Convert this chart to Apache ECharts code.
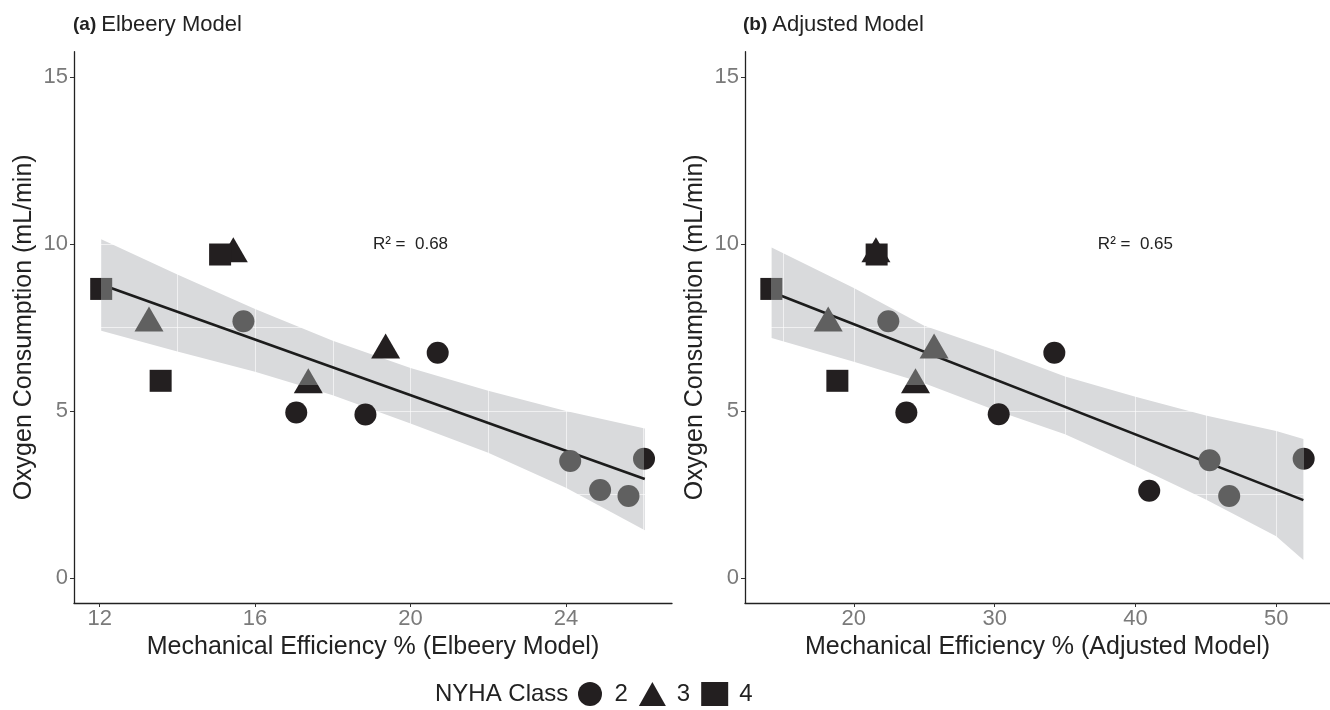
<!DOCTYPE html>
<html><head><meta charset="utf-8">
<script src="https://cdn.jsdelivr.net/npm/echarts@6/dist/echarts.min.js"></script>
<style>html,body{margin:0;padding:0;background:#fff}#c{width:1330px;height:710px}</style>
</head><body><div id="c"></div>
<script>
// ---------- Panel (a) Elbeery Model ----------
const aClass = [4, 3, 4, 4, 3, 2, 3, 2, 2, 3, 2, 2, 2, 2, 2];
const aX = [12.04, 13.27, 13.57, 15.10, 15.44, 15.70, 17.37, 17.06, 18.84, 19.36, 20.70, 24.11, 24.88, 25.61, 26.01];
const aY = [8.65, 7.63, 5.90, 9.68, 9.70, 7.68, 5.78, 4.95, 4.89, 6.82, 6.74, 3.50, 2.63, 2.45, 3.57];
const aTone = ['kg', 'g', 'k', 'k', 'k', 'g', 'gk_v', 'k', 'k', 'k', 'k', 'g', 'g', 'g', 'gk'];
const aFitX = [12.04, 26.03];
const aFitY = [8.78, 2.96];
const aBandX = [12.04, 14, 16, 18, 20, 22, 24, 26.03];
const aBandHi = [10.14, 9.08, 8.05, 7.10, 6.28, 5.60, 5.00, 4.47];
const aBandLo = [7.40, 6.78, 6.17, 5.47, 4.62, 3.75, 2.70, 1.43];
const aXTicks = [12, 16, 20, 24];
const aR2 = ['R\u00b2 =  0.68', 20, 10];

// ---------- Panel (b) Adjusted Model ----------
const bClass = [4, 3, 4, 4, 3, 2, 3, 2, 2, 3, 2, 2, 2, 2, 2];
const bX = [14.14, 18.18, 18.83, 21.62, 21.57, 22.45, 24.38, 23.73, 30.29, 25.70, 34.24, 45.27, 40.98, 46.66, 51.95];
const bY = [8.65, 7.63, 5.90, 9.68, 9.70, 7.68, 5.78, 4.95, 4.90, 6.82, 6.74, 3.52, 2.61, 2.45, 3.57];
const bTone = ['kg', 'g', 'k', 'k', 'k', 'g', 'gk_v', 'k', 'k', 'g', 'k', 'g', 'k', 'g', 'gk'];
const bFitX = [14.16, 51.93];
const bFitY = [8.56, 2.33];
const bBandX = [14.16, 20, 25, 30, 35, 40, 45, 50, 51.93];
const bBandHi = [9.89, 8.68, 7.55, 6.82, 6.03, 5.42, 4.86, 4.40, 4.16];
const bBandLo = [7.18, 6.47, 5.83, 5.03, 4.30, 3.35, 2.35, 1.25, 0.54];
const bXTicks = [20, 30, 40, 50];
const bR2 = ['R\u00b2 =  0.65', 40, 10];

const yTicks = [0, 5, 10, 15];
const classes = [2, 3, 4];
const classLabels = ['2', '3', '4'];

const FONT = 'Liberation Sans, Arial, Helvetica, sans-serif';
const BLACK = '#231f20', GREY = '#606060';

function toneColor(t) {
  if (t === 'k') return BLACK;
  if (t === 'g') return GREY;
  const vertical = t === 'gk_v';
  const first = t === 'kg' ? BLACK : GREY;
  const second = t === 'kg' ? GREY : BLACK;
  const s = vertical ? 0.68 : 0.5;
  return { type: 'linear', x: 0, y: 0, x2: vertical ? 0 : 1, y2: vertical ? 1 : 0,
    colorStops: [{offset: 0, color: first}, {offset: s, color: first}, {offset: s, color: second}, {offset: 1, color: second}] };
}
const shape = {2: 'circle', 3: 'triangle', 4: 'rect'};
const size = {2: 22, 3: [29, 25], 4: 22};
const offs = {2: [0, 0], 3: [0, -4], 4: [0, 0]};

const panels = [
  {cls: aClass, x: aX, y: aY, tone: aTone, fitX: aFitX, fitY: aFitY, bx: aBandX, hi: aBandHi, lo: aBandLo,
   ticks: aXTicks, r2: aR2, xmin: 11.34, xmax: 26.73, gstep: 2, left: 74, width: 598,
   xname: 'Mechanical Efficiency % (Elbeery Model)', tag: '(a)', title: 'Elbeery Model', tleft: 68},
  {cls: bClass, x: bX, y: bY, tone: bTone, fitX: bFitX, fitY: bFitY, bx: bBandX, hi: bBandHi, lo: bBandLo,
   ticks: bXTicks, r2: bR2, xmin: 12.27, xmax: 53.82, gstep: 5, left: 745, width: 597,
   xname: 'Mechanical Efficiency % (Adjusted Model)', tag: '(b)', title: 'Adjusted Model', tleft: 738}
];

const grid = [], xAxis = [], yAxis = [], series = [], title = [];
panels.forEach((p, gi) => {
  grid.push({left: p.left, top: 51.7, width: p.width, height: 551.3, containLabel: false});
  title.push({text: '{a|' + p.tag + '} {b|' + p.title + '}', left: p.tleft, top: 9,
    textStyle: {fontWeight: 'normal', rich: {a: {fontWeight: 'bold', fontSize: 19, color: '#222', fontFamily: FONT},
                       b: {fontWeight: 'normal', fontSize: 22, color: '#222', fontFamily: FONT}}}});
  // data axis (gridlines)
  xAxis.push({gridIndex: gi, type: 'value', position: 'bottom', min: p.xmin, max: p.xmax,
    minInterval: p.gstep, maxInterval: p.gstep, z: 3,
    axisLine: {show: false}, axisTick: {show: false}, axisLabel: {show: false},
    splitLine: {show: true, lineStyle: {color: 'rgba(255,255,255,0.6)', width: 1}}});
  // label axis
  xAxis.push({gridIndex: gi, type: 'value', position: 'bottom', min: p.xmin, max: p.xmax, z: 4,
    axisLine: {show: true, onZero: false, lineStyle: {color: '#222', width: 1.3}},
    axisTick: {show: true, length: 4, customValues: p.ticks, lineStyle: {color: '#333', width: 1}},
    axisLabel: {customValues: p.ticks, color: '#7a7a7a', fontSize: 22, fontFamily: FONT, margin: 5},
    splitLine: {show: false},
    name: p.xname, nameLocation: 'middle', nameGap: 30,
    nameTextStyle: {fontSize: 25, color: '#222', fontFamily: FONT}});
  yAxis.push({gridIndex: gi, type: 'value', position: 'left', min: -0.75, max: 15.75,
    minInterval: 2.5, maxInterval: 2.5, z: 3,
    axisLine: {show: false}, axisTick: {show: false}, axisLabel: {show: false},
    splitLine: {show: true, lineStyle: {color: 'rgba(255,255,255,0.6)', width: 1}}});
  yAxis.push({gridIndex: gi, type: 'value', position: 'left', min: -0.75, max: 15.75, z: 4,
    axisLine: {show: true, onZero: false, lineStyle: {color: '#222', width: 1.3}},
    axisTick: {show: true, length: 4, customValues: yTicks, lineStyle: {color: '#333', width: 1}},
    axisLabel: {customValues: yTicks, color: '#7a7a7a', fontSize: 22, fontFamily: FONT, margin: 6},
    splitLine: {show: false},
    name: 'Oxygen Consumption (mL/min)', nameLocation: 'middle', nameGap: 37,
    nameTextStyle: {fontSize: 25, color: '#222', fontFamily: FONT}});
  const xi = gi * 2, yi = gi * 2;
  // confidence band
  series.push({type: 'custom', xAxisIndex: xi, yAxisIndex: yi, z: 1, silent: true, animation: false,
    data: p.bx.map((x, i) => [x, p.lo[i], p.hi[i]]), encode: {x: 0, y: [1, 2]},
    renderItem: (params, api) => {
      if (params.dataIndex !== 0) return null;
      const pts = [];
      for (let i = 0; i < p.bx.length; i++) pts.push(api.coord([p.bx[i], p.hi[i]]));
      for (let i = p.bx.length - 1; i >= 0; i--) pts.push(api.coord([p.bx[i], p.lo[i]]));
      return {type: 'polygon', shape: {points: pts}, style: {fill: '#d9dadc'}};
    }});
  // fit line
  series.push({type: 'line', xAxisIndex: xi, yAxisIndex: yi, z: 5, silent: true, animation: false,
    symbol: 'none', data: p.fitX.map((x, i) => [x, p.fitY[i]]),
    lineStyle: {color: '#1c1c1c', width: 2.6}});
  // points
  classes.forEach((c, ci) => {
    const data = [];
    p.cls.forEach((k, i) => { if (k === c) data.push({value: [p.x[i], p.y[i]], itemStyle: {color: toneColor(p.tone[i])}}); });
    series.push({type: 'scatter', name: classLabels[ci], xAxisIndex: xi, yAxisIndex: yi, z: 6, animation: false,
      symbol: shape[c], symbolSize: size[c], symbolOffset: offs[c], data: data,
      itemStyle: {color: BLACK, opacity: 1}, emphasis: {disabled: true}});
  });
  // R² annotation
  series.push({type: 'custom', xAxisIndex: xi, yAxisIndex: yi, z: 6, silent: true, animation: false,
    data: [[p.r2[1], p.r2[2]]],
    renderItem: (params, api) => {
      const pt = api.coord([api.value(0), api.value(1)]);
      return {type: 'text', x: pt[0], y: pt[1],
        style: {text: p.r2[0], fill: '#222', fontSize: 17, fontFamily: FONT, align: 'center', verticalAlign: 'middle'}};
    }});
});

title.push({text: 'NYHA Class', left: 430, top: 677, textStyle: {fontSize: 24, fontWeight: 'normal', color: '#222', fontFamily: FONT}});

const option = {
  backgroundColor: '#fff',
  animation: false,
  title: title,
  grid: grid, xAxis: xAxis, yAxis: yAxis, series: series,
  legend: {left: 573, top: 677, itemWidth: 27, itemHeight: 24, itemGap: 11, selectedMode: false,
    textStyle: {fontSize: 24, color: '#222', fontFamily: FONT, padding: [0, 0, 0, 6]},
    data: classLabels.map((n, i) => ({name: n, icon: ['circle', 'triangle', 'rect'][i], itemStyle: {color: BLACK}}))}
};
const chart = echarts.init(document.getElementById('c'), null, {renderer: 'canvas'});
chart.setOption(option);
</script></body></html>
